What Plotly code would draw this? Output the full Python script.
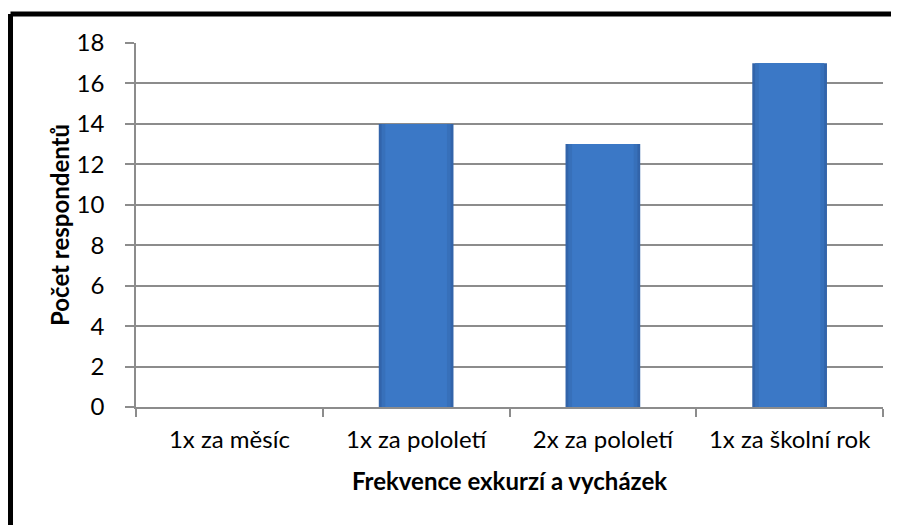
import plotly.graph_objects as go

categories = ["1x za měsíc", "1x za pololetí", "2x za pololetí", "1x za školní rok"]
values = [0, 14, 13, 17]
y_ticks = [0, 2, 4, 6, 8, 10, 12, 14, 16, 18]

font = "Lato, 'Open Sans', sans-serif"

fig = go.Figure()
# bevel look: darker outer bar, lighter inner bars on top
fig.add_trace(go.Bar(x=categories, y=values, width=0.40,
                     marker=dict(color="#3264aa", line=dict(width=0))))
fig.add_trace(go.Bar(x=categories, y=values, width=0.37,
                     marker=dict(color="#3770ba", line=dict(width=0))))
fig.add_trace(go.Bar(x=categories, y=values, width=0.33,
                     marker=dict(color="#3b78c6", line=dict(width=0))))

# page has an 8px body margin, so the figure is 8px smaller
fig.update_layout(
    width=891, height=517,
    barmode="overlay",
    showlegend=False,
    plot_bgcolor="white", paper_bgcolor="white",
    margin=dict(l=128, r=16, t=35, b=118),
    font=dict(family=font, size=24, color="black"),
    xaxis=dict(
        type="category",
        automargin=False,
        tickson="boundaries",
        ticks="outside", ticklen=8, tickcolor="#8c8c8c", tickwidth=1.5,
        showline=True, linecolor="#8c8c8c", linewidth=1.5,
        showgrid=False,
        ticklabelstandoff=10,
        title=dict(text="<b>Frekvence exkurzí a vycházek</b>", standoff=22,
                   font=dict(size=24)),
    ),
    yaxis=dict(
        range=[0, 18], tickvals=y_ticks,
        automargin=False,
        ticks="outside", ticklen=9, tickcolor="#8c8c8c", tickwidth=1.5,
        showline=True, linecolor="#8c8c8c", linewidth=1.5,
        showgrid=True, gridcolor="#8c8c8c", gridwidth=1.5,
        zeroline=False,
        ticklabelstandoff=16,
        title=dict(text="<b>Počet respondentů</b>", standoff=0,
                   font=dict(size=24)),
    ),
)

# frame visible at the top and left edge of the picture
fig.add_shape(type="line", xref="paper", yref="paper",
              x0=-0.168, x1=1.03, y0=1.08, y1=1.08,
              line=dict(color="black", width=5))
fig.add_shape(type="line", xref="paper", yref="paper",
              x0=-0.168, x1=-0.168, y0=1.08, y1=-0.35,
              line=dict(color="black", width=5))

fig.write_html("out.html")
